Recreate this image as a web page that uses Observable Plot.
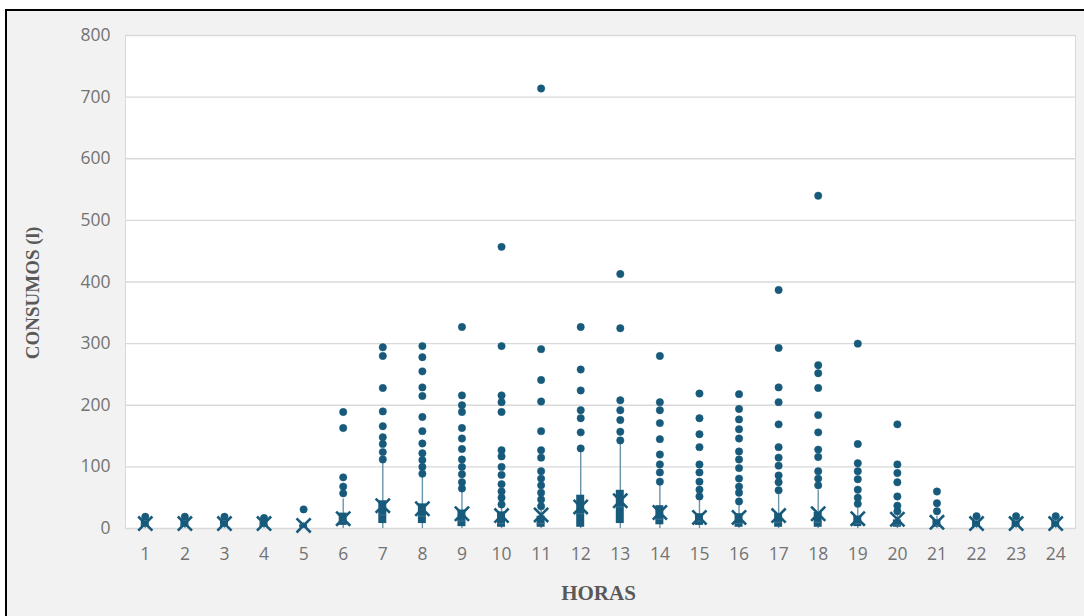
<!DOCTYPE html>
<html>
<head>
<meta charset="utf-8">
<script src="https://cdn.jsdelivr.net/npm/d3@7"></script>
<script src="https://cdn.jsdelivr.net/npm/@observablehq/plot@0.6"></script>
<style>
  html, body { margin: 0; padding: 0; background: #ffffff; overflow: hidden; }
  #border { position: absolute; left: 5px; top: 9px; width: 1100px; height: 640px;
            border: 2px solid #000; background: #f2f2f2; box-sizing: border-box; }
  #chart { position: absolute; left: 0; top: 0; }
</style>
</head>
<body>
<div id="border"></div>
<div id="chart"></div>
<script>
// Hours (categories)
const hours = ["1","2","3","4","5","6","7","8","9","10","11","12","13","14","15","16","17","18","19","20","21","22","23","24"];
// Box statistics per hour (litres)
const q1      = [2, 2, 2, 2, 1, 5, 8, 8, 3, 2, 2, 2, 8, 6, 5, 2, 2, 2, 3, 2, 2, 2, 2, 2];
const median  = [6, 6, 6, 6, 3, 12, 22, 20, 12, 8, 8, 24, 35, 15, 12, 8, 10, 10, 8, 6, 5, 5, 5, 5];
const q3      = [12, 12, 12, 11, 6, 25, 45, 40, 30, 27, 20, 54, 62, 37, 24, 24, 24, 26, 20, 14, 14, 12, 12, 12];
const whiskerLow  = [0, 0, 0, 0, 0, 0, 0, 0, 0, 0, 0, 0, 0, 0, 0, 0, 0, 0, 0, 0, 0, 0, 0, 0];
const whiskerHigh = [15, 15, 15, 14, 10, 48, 105, 85, 60, 35, 33, 125, 138, 73, 45, 38, 55, 62, 33, 22, 20, 14, 14, 14];
const mean    = [8, 8, 8, 8, 5, 16, 37, 32, 24, 21, 22, 35, 45, 26, 18, 18, 21, 24, 16, 15, 10, 8, 8, 8];
// Outliers per hour
const outliers = [
  [19], [19], [19], [17], [31],
  [189, 163, 83, 68, 57],
  [294, 280, 228, 190, 166, 148, 137, 124, 112],
  [296, 278, 255, 229, 215, 181, 158, 138, 122, 111, 100, 89],
  [327, 216, 200, 189, 163, 146, 129, 112, 100, 88, 75, 65],
  [457, 296, 216, 205, 189, 127, 117, 100, 87, 72, 60, 50, 39],
  [714, 291, 241, 206, 158, 127, 115, 93, 81, 70, 58, 47, 36],
  [327, 258, 224, 192, 179, 156, 130],
  [413, 325, 208, 192, 176, 157, 143],
  [280, 205, 192, 171, 145, 120, 104, 91, 76],
  [219, 179, 153, 132, 104, 91, 76, 63, 52],
  [218, 194, 177, 161, 146, 125, 112, 98, 81, 68, 58, 44],
  [387, 293, 229, 205, 169, 132, 115, 102, 86, 75, 62],
  [540, 265, 252, 228, 184, 156, 128, 116, 93, 81, 70],
  [300, 137, 106, 93, 80, 63, 50, 40],
  [169, 104, 90, 75, 52, 37, 28],
  [60, 41, 28],
  [20], [20], [20]
];
const yTicks = [0, 100, 200, 300, 400, 500, 600, 700, 800];

const table = hours.map((h, i) => ({
  hour: h, q1: q1[i], median: median[i], q3: q3[i],
  wl: whiskerLow[i], wh: whiskerHigh[i], mean: mean[i]
}));
const outlierRows = hours.flatMap((h, i) => outliers[i].map(v => ({hour: h, value: v})));

const C = "#175a7b";
const W = 1084, H = 616;
const inset = 15.8;

const chart = Plot.plot({
  width: W,
  height: H,
  marginLeft: 125,
  marginRight: 9,
  marginTop: 35,
  marginBottom: 88,
  style: {background: "transparent", fontFamily: "'Open Sans', sans-serif", fontSize: "17px", color: "#737373", overflow: "visible"},
  x: {domain: hours, padding: 0, round: false},
  y: {domain: [0, 800]},
  marks: [
    Plot.frame({fill: "#ffffff", stroke: "#d9d9d9"}),
    Plot.gridY(yTicks, {stroke: "#d9d9d9", strokeOpacity: 1, strokeWidth: 1.3}),
    Plot.axisY(yTicks, {tickSize: 0, tickPadding: 15, label: null, fontSize: 17.5, fill: "#737373"}),
    Plot.axisX({tickSize: 0, tickPadding: 19, label: null, fontSize: 17.5, fill: "#737373"}),
    Plot.ruleX(table, {x: "hour", y1: "wl", y2: "wh", stroke: "#6a94aa", strokeWidth: 1.4}),
    Plot.barY(table, {x: "hour", y1: "q1", y2: "q3", fill: C, insetLeft: inset, insetRight: inset}),
    Plot.tickY(table, {x: "hour", y: "median", stroke: "#3d7290", strokeWidth: 1, insetLeft: inset, insetRight: inset}),
    Plot.dot(outlierRows, {x: "hour", y: "value", r: 3.7, fill: C, stroke: C, strokeWidth: 0.5}),
    Plot.dot(table, {x: "hour", y: "mean", symbol: "times", r: 6.5, stroke: C, strokeWidth: 2.6}),
    Plot.text(["CONSUMOS (l)"], {frameAnchor: "left", textAnchor: "middle", dx: -93, dy: 11, rotate: -90, fontFamily: "'Liberation Serif', serif", fontWeight: "bold", fontSize: 19, fill: "#595959"}),
    Plot.text(["HORAS"], {frameAnchor: "bottom", dx: -2, dy: 71, fontFamily: "'Liberation Serif', serif", fontWeight: "bold", fontSize: 21, fill: "#595959"})
  ]
});
document.getElementById("chart").appendChild(chart);
</script>
</body>
</html>
